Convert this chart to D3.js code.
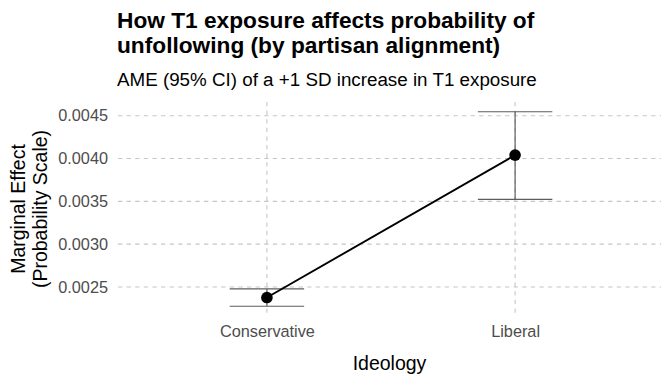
<!DOCTYPE html>
<html>
<head>
<meta charset="utf-8">
<script src="https://cdn.jsdelivr.net/npm/d3@7"></script>
<style>
  html, body { margin: 0; padding: 0; background: #fff; }
  svg { display: block; font-family: "Liberation Sans", Arial, Helvetica, sans-serif; }
</style>
</head>
<body>
<svg id="chart" width="661" height="378"></svg>
<script>
// Average marginal effects of T1 exposure by ideology
const categories = ["Conservative", "Liberal"];
const estimates  = [0.002376, 0.004040];
const ciLower    = [0.002274, 0.003523];
const ciUpper    = [0.002477, 0.004547];
const yTicks     = [0.0025, 0.0030, 0.0035, 0.0040, 0.0045];

const titleLines = ["How T1 exposure affects probability of", "unfollowing (by partisan alignment)"];
const subtitle   = "AME (95% CI) of a +1 SD increase in T1 exposure";
const xTitle     = "Ideology";
const yTitleLines = ["Marginal Effect", "(Probability Scale)"];

const data = categories.map((c, i) => ({ cat: c, est: estimates[i], lo: ciLower[i], hi: ciUpper[i] }));

const W = 661, H = 378;
const panel = { left: 118, right: 664, top: 102, bottom: 316 };

const svg = d3.select("#chart");

// scales: discrete x with wide padding, y expanded 5% beyond the intervals
const x = d3.scalePoint().domain(categories).range([panel.left, panel.right]).padding(0.6);
const lo = d3.min(ciLower), hi = d3.max(ciUpper), pad = (hi - lo) * 0.05;
const y = d3.scaleLinear().domain([lo - pad, hi + pad]).range([panel.bottom, panel.top]);

// grid
const grid = svg.append("g").attr("stroke", "#c6c6c6").attr("stroke-width", 1.1)
  .attr("stroke-dasharray", "4.3,4.3").attr("fill", "none");
yTicks.forEach(t => {
  grid.append("line").attr("x1", panel.left).attr("x2", W)
    .attr("y1", y(t)).attr("y2", y(t));
});
categories.forEach(c => {
  grid.append("line").attr("x1", x(c)).attr("x2", x(c))
    .attr("y1", panel.top).attr("y2", panel.bottom);
});

// axes (text only)
const yAxis = d3.axisLeft(y).tickValues(yTicks).tickFormat(d3.format(".4f")).tickSize(0).tickPadding(10);
const gy = svg.append("g").attr("transform", `translate(${panel.left},0)`).call(yAxis);
gy.select(".domain").remove();
gy.selectAll("text").attr("font-size", 16.3).attr("fill", "#4d4d4d")
  .attr("font-family", "Liberation Sans, Arial, sans-serif");

const xAxis = d3.axisBottom(x).tickSize(0).tickPadding(9);
const gx = svg.append("g").attr("transform", `translate(0,${panel.bottom})`).call(xAxis);
gx.select(".domain").remove();
gx.selectAll("text").attr("font-size", 16.3).attr("fill", "#4d4d4d")
  .attr("font-family", "Liberation Sans, Arial, sans-serif");

// error bars
const capHalf = x.step() * 0.15;
const eb = svg.append("g").attr("stroke", "#5e5e5e").attr("stroke-width", 1.2).attr("fill", "none");
data.forEach(d => {
  eb.append("line").attr("x1", x(d.cat)).attr("x2", x(d.cat)).attr("y1", y(d.lo)).attr("y2", y(d.hi));
  eb.append("line").attr("x1", x(d.cat) - capHalf).attr("x2", x(d.cat) + capHalf).attr("y1", y(d.lo)).attr("y2", y(d.lo));
  eb.append("line").attr("x1", x(d.cat) - capHalf).attr("x2", x(d.cat) + capHalf).attr("y1", y(d.hi)).attr("y2", y(d.hi));
});

// connecting line and points
svg.append("path").datum(data)
  .attr("d", d3.line().x(d => x(d.cat)).y(d => y(d.est)))
  .attr("fill", "none").attr("stroke", "#000").attr("stroke-width", 1.9);
svg.append("g").selectAll("circle").data(data).join("circle")
  .attr("cx", d => x(d.cat)).attr("cy", d => y(d.est)).attr("r", 5.8).attr("fill", "#000");

// titles
svg.append("text").attr("x", 117).attr("y", 28).attr("font-size", 22.7).attr("font-weight", "bold")
  .attr("fill", "#000").text(titleLines[0]);
svg.append("text").attr("x", 117).attr("y", 53).attr("font-size", 22.7).attr("font-weight", "bold")
  .attr("fill", "#000").text(titleLines[1]);
svg.append("text").attr("x", 117).attr("y", 86).attr("font-size", 18.8)
  .attr("fill", "#000").text(subtitle);

svg.append("text").attr("x", (panel.left + W) / 2).attr("y", 370).attr("text-anchor", "middle")
  .attr("font-size", 19.5).attr("fill", "#000").text(xTitle);

const cy = (panel.top + panel.bottom) / 2;
yTitleLines.forEach((t, i) => {
  svg.append("text")
    .attr("transform", `translate(${25 + i * 21.5},${cy}) rotate(-90)`)
    .attr("text-anchor", "middle").attr("font-size", 19.5).attr("fill", "#000").text(t);
});
</script>
</body>
</html>
